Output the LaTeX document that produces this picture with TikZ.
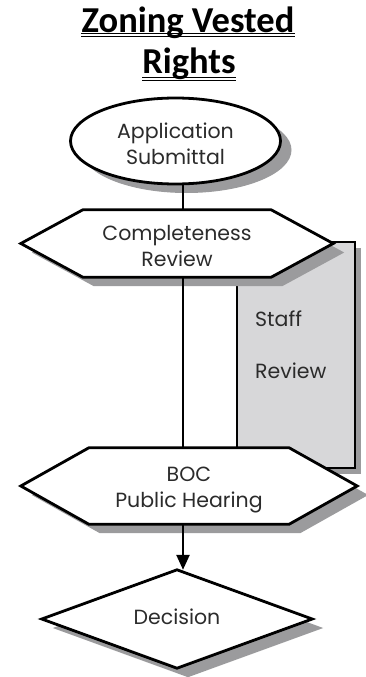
\documentclass[tikz,border=0pt]{standalone}
\usepackage{fontspec}
\setmainfont{Poppins}
\newfontfamily\titlefont{Carlito}
\usetikzlibrary{positioning,shapes.geometric,shadows,arrows.meta}
\definecolor{shadowgray}{HTML}{9B9B9D}
\definecolor{staffgray}{HTML}{D7D7D9}
\definecolor{inkgray}{HTML}{2B2B2B}
\tikzset{font=\fontsize{20.5}{26}\selectfont}

\begin{document}
\begin{tikzpicture}[x=1pt, y=-1pt]
	\useasboundingbox (0, 0) rectangle (366, 677);
	\tikzstyle{every node}=[align=center, inner sep=0pt, text=inkgray]
	\tikzstyle{outline}=[draw=black, line width=2.8pt, fill=white,
		drop shadow={shadow xshift=11pt, shadow yshift=-9pt, fill=shadowgray, opacity=1}]
	\tikzstyle{wire}=[draw=black, line width=2.4pt]

	% title, double underlined
	\node [anchor=base, text=black, font=\titlefont\bfseries\fontsize{36.5}{40}\selectfont] (title) at (188, 32.5) {Zoning Vested};
	\node [anchor=base, text=black, font=\titlefont\bfseries\fontsize{36.5}{40}\selectfont] (title2) at (189, 74) {Rights};
	\draw [line width=1pt] ([yshift=-1pt]title.base west) -- ([yshift=-1pt]title.base east);
	\draw [line width=1pt] ([yshift=-4.2pt]title.base west) -- ([yshift=-4.2pt]title.base east);
	\draw [line width=1pt] ([yshift=-3pt]title2.base west) -- ([yshift=-3pt]title2.base east);
	\draw [line width=1pt] ([yshift=-6.2pt]title2.base west) -- ([yshift=-6.2pt]title2.base east);

	\node [ellipse, outline, minimum width=210pt, minimum height=86pt] (app) at (175.5, 141) {};

	% frames for the flow shapes
	\node [minimum width=312pt, minimum height=67pt] (cr) at (177, 243.5) {};
	\node [minimum width=336pt, minimum height=76pt] (boc) at (189, 486) {};
	\node [minimum width=270pt, minimum height=98pt] (dec) at (177, 619) {};
	\coordinate (spine) at (183, 0);

	% staff review side box
	\draw [line width=2.4pt, fill=staffgray,
		drop shadow={shadow xshift=6pt, shadow yshift=-6pt, fill=shadowgray, opacity=1}] (237, 242) rectangle (355, 468);

	\draw [outline] (cr.west) -- ([xshift=62pt]cr.north west) -- ([xshift=-62pt]cr.north east) -- (cr.east)
		-- ([xshift=-62pt]cr.south east) -- ([xshift=62pt]cr.south west) -- cycle;
	\draw [outline] (boc.west) -- ([xshift=68pt]boc.north west) -- ([xshift=-68pt]boc.north east) -- (boc.east)
		-- ([xshift=-68pt]boc.south east) -- ([xshift=68pt]boc.south west) -- cycle;
	\draw [outline] (dec.west) -- (dec.north) -- (dec.east) -- (dec.south) -- cycle;

	\draw [wire] (app.south -| spine) to (cr.north -| spine);
	\draw [wire] (cr.south -| spine) to (boc.north -| spine);
	\draw [wire, ->, >={Triangle[length=15pt, width=13pt]}] (boc.south -| spine) to (dec.north -| spine);

	\node (apptext) at ([yshift=-3pt]app.center) {Application\\Submittal};
	\node (crtext) at ([yshift=-3pt]cr.center) {Completeness\\Review};
	\node (boctext) at ([yshift=-4pt]boc.center) {BOC\\Public Hearing};
	\node (dectext) at ([yshift=2pt]dec.center) {Decision};
	\node [anchor=base west] (staff) at (255, 326) {Staff};
	\node [anchor=base west] (review) at (255, 378) {Review};
\end{tikzpicture}
\end{document}
